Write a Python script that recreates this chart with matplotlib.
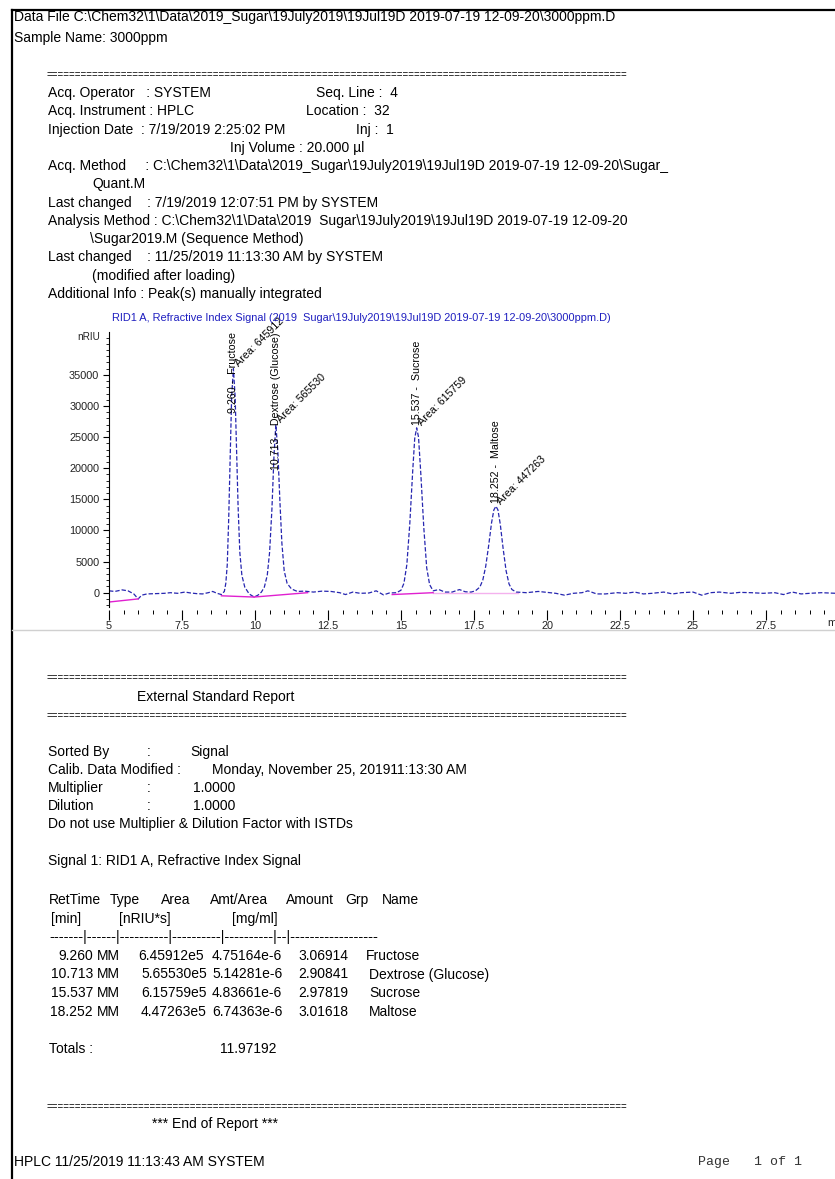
import matplotlib
matplotlib.use("Agg")
import matplotlib.pyplot as plt
from matplotlib.ticker import MultipleLocator, FuncFormatter
from matplotlib.lines import Line2D

# ---------------- data ----------------
trace_time = [5.0, 5.2, 5.45, 5.65, 5.85, 6.0, 6.12, 6.3, 6.6, 6.9, 7.1, 7.35, 7.6, 7.8, 8.0, 8.2, 8.4, 8.55, 8.7, 8.85,
              8.95, 9.0, 9.05, 9.1, 9.15, 9.2, 9.26, 9.32, 9.37, 9.42, 9.48, 9.55, 9.65, 9.8, 9.97,
              10.1, 10.22, 10.32, 10.42, 10.5, 10.58, 10.65, 10.713, 10.78, 10.85, 10.92, 11.0, 11.1, 11.25, 11.45, 11.7,
              12.0, 12.3, 12.6, 12.9, 13.1, 13.35, 13.6, 13.9, 14.15, 14.4, 14.6, 14.85,
              15.0, 15.1, 15.2, 15.3, 15.4, 15.47, 15.537, 15.6, 15.68, 15.78, 15.88, 15.98, 16.1,
              16.3, 16.5, 16.75, 17.0, 17.2, 17.4,
              17.55, 17.7, 17.8, 17.9, 18.0, 18.1, 18.18, 18.252, 18.32, 18.4, 18.5, 18.6, 18.7, 18.8, 18.95,
              19.3, 19.7, 20.0, 20.3, 20.6, 20.9, 21.2, 21.4, 21.7, 22.0, 22.4, 22.7, 23.0, 23.3, 23.6, 24.0,
              24.3, 24.6, 25.0, 25.3, 25.6, 25.9, 26.3, 26.6, 27.0, 27.4, 27.8, 28.1, 28.4, 28.7, 29.0, 29.4, 29.9]
trace_signal = [300, 200, 450, 300, -200, -1000, -400, -200, -150, -100, 0, -100, 100, -50, -150, -200, 0, 200, -100, -300,
                200, 1500, 4500, 12000, 22000, 31500, 36000, 31500, 23000, 14000, 6500, 2800, 900, -200, -700,
                -400, 100, 900, 2800, 6500, 13500, 22000, 27000, 23000, 15000, 8000, 3500, 1500, 600, 200, 250,
                100, 250, 200, 0, -300, 100, -100, -50, 300, -350, -50, 0,
                400, 1500, 4500, 11000, 19500, 24800, 26500, 25000, 19000, 10500, 4000, 1300, 300,
                500, 100, 100, 500, 150, 100,
                300, 900, 2000, 4200, 7500, 11200, 13300, 13900, 13300, 11000, 7000, 3500, 1400, 500, 100,
                0, 200, 50, -100, -400, -100, 0, 300, -200, -200, 0, -100, 100, -200, -100, 100,
                -200, 0, 100, -400, 0, 100, -100, 50, 0, -100, 0, -300, 100, -200, -100, 0, -100]

peak_rt = [9.260, 10.713, 15.537, 18.252]
peak_height = [36000, 27000, 26500, 13900]
peak_name = ["Fructose", "Dextrose (Glucose)", "Sucrose", "Maltose"]
peak_area_int = [645912, 565530, 615759, 447263]

base_t0 = [5.0, 8.85, 9.97, 14.7, 16.1]
base_t1 = [6.0, 9.97, 11.8, 16.1, 19.0]
base_y0 = [-1500, -500, -700, -300, 0]
base_y1 = [-1000, -700, 0, 0, 0]
base_alpha = [1.0, 1.0, 1.0, 1.0, 0.35]

x_tick_values = [5, 7.5, 10, 12.5, 15, 17.5, 20, 22.5, 25, 27.5]
y_tick_values = [0, 5000, 10000, 15000, 20000, 25000, 30000, 35000]

tbl_rettime = ["9.260", "10.713", "15.537", "18.252"]
tbl_type = ["MM", "MM", "MM", "MM"]
tbl_area = ["6.45912e5", "5.65530e5", "6.15759e5", "4.47263e5"]
tbl_amtarea = ["4.75164e-6", "5.14281e-6", "4.83661e-6", "6.74363e-6"]
tbl_amount = ["3.06914", "2.90841", "2.97819", "3.01618"]
tbl_name = ["Fructose", "Dextrose (Glucose)", "Sucrose", "Maltose"]
total_amount = "11.97192"

# ---------------- figure ----------------
W, H = 835, 1179
fig = plt.figure(figsize=(W / 100, H / 100), dpi=100)
FONT = ["Liberation Sans", "DejaVu Sans"]
FS = 10.0


def T(x, y, s, fs=FS, **kw):
    kw.setdefault("family", FONT)
    fig.text(x / W, 1 - y / H, s, fontsize=fs, va="center", ha=kw.pop("ha", "left"), **kw)


# page border
fig.add_artist(Line2D([12 / W, 1.0], [1 - 10 / H, 1 - 10 / H], color="black", lw=1.6))
fig.add_artist(Line2D([12 / W, 12 / W], [1 - 10 / H, 0.0], color="black", lw=1.6))
fig.add_artist(Line2D([12 / W, 1.0], [1 - 630 / H, 1 - 630 / H], color="#d0d0d0", lw=1.0))

T(14, 17, "Data File C:\\Chem32\\1\\Data\\2019_Sugar\\19July2019\\19Jul19D 2019-07-19 12-09-20\\3000ppm.D")
T(14, 38, "Sample Name: 3000ppm")

EQ = "=" * 101
T(47, 75, EQ, fs=7.0)
T(48, 93, "Acq. Operator   : SYSTEM")
T(316, 93, "Seq. Line :  4")
T(48, 111, "Acq. Instrument : HPLC")
T(306, 111, "Location :  32")
T(48, 130, "Injection Date  : 7/19/2019 2:25:02 PM")
T(356, 130, "Inj :  1")
T(230, 148, "Inj Volume : 20.000 µl")
T(48, 166, "Acq. Method     : C:\\Chem32\\1\\Data\\2019_Sugar\\19July2019\\19Jul19D 2019-07-19 12-09-20\\Sugar_")
T(92, 184, "Quant.M")
T(48, 203, "Last changed    : 7/19/2019 12:07:51 PM by SYSTEM")
T(48, 221, "Analysis Method : C:\\Chem32\\1\\Data\\2019  Sugar\\19July2019\\19Jul19D 2019-07-19 12-09-20")
T(90, 239, "\\Sugar2019.M (Sequence Method)")
T(48, 257, "Last changed    : 11/25/2019 11:13:30 AM by SYSTEM")
T(92, 276, "(modified after loading)")
T(48, 294, "Additional Info : Peak(s) manually integrated")
T(112, 318, "RID1 A, Refractive Index Signal (2019  Sugar\\19July2019\\19Jul19D 2019-07-19 12-09-20\\3000ppm.D)",
  fs=7.9, color="#1f1fc0")

# ---------------- chromatogram axes ----------------
ax_left, ax_right, ax_top, ax_bot = 109, 835, 332, 607
ax = fig.add_axes([ax_left / W, 1 - ax_bot / H, (ax_right - ax_left) / W, (ax_bot - ax_top) / H])
ax.set_xlim(5, 5 + (ax_right - ax_left) / 29.2)
ax.set_ylim(-2300, 41900)
ax.patch.set_alpha(0)
for s in ["top", "right"]:
    ax.spines[s].set_visible(False)
ax.spines["bottom"].set_visible(False)
ax.spines["bottom"].set_position(("outward", 2.2))
ax.spines["left"].set_linewidth(0.8)

ax.plot(trace_time, trace_signal, color="#2626b0", lw=0.9, ls=(0, (3.5, 1.6)))
for t0, t1, y0, y1, a in zip(base_t0, base_t1, base_y0, base_y1, base_alpha):
    ax.plot([t0, t1], [y0, y1], color="#e020d0", lw=1.0, alpha=a)

ax.xaxis.set_minor_locator(MultipleLocator(0.5))
ax.set_xticks(x_tick_values)
ax.xaxis.set_major_formatter(FuncFormatter(lambda v, p: f"{v:g}"))
ax.yaxis.set_minor_locator(MultipleLocator(1000))
ax.set_yticks(y_tick_values)
ax.yaxis.set_major_formatter(FuncFormatter(lambda v, p: f"{int(v)}"))
ax.tick_params(axis="x", which="major", length=7, width=0.8, pad=1.0, labelsize=7.8, labelcolor="#222222")
ax.tick_params(axis="x", which="minor", length=3, width=0.7)
ax.tick_params(axis="y", which="major", length=4, width=0.8, pad=3, labelsize=7.8, labelcolor="#222222")
ax.tick_params(axis="y", which="minor", length=2, width=0.6)
for tk in ax.xaxis.get_major_ticks():
    if tk.get_loc() % 5 != 0:
        tk.tick1line.set_markersize(3)
for lab in ax.get_xticklabels() + ax.get_yticklabels():
    lab.set_family(FONT)

T(100, 337, "nRIU", fs=7.2, ha="right", color="#222222")
T(827, 623, "min", fs=7.8, color="#222222")

# peak labels
LFS = 7.7
fig.canvas.draw()
renderer = fig.canvas.get_renderer()
ax_top_disp = ax.transAxes.transform((0, 1))[1]
for rt, h, name, area in zip(peak_rt, peak_height, peak_name, peak_area_int):
    txt = ax.annotate(f"{rt:.3f} -  {name}", xy=(rt, h), xytext=(0, 2), textcoords="offset points",
                      rotation=90, ha="center", va="bottom", fontsize=LFS, family=FONT, annotation_clip=False)
    bb = txt.get_window_extent(renderer)
    if bb.y1 > ax_top_disp:
        txt.remove()
        ax.annotate(f"{rt:.3f} -  {name}", xy=(rt, 1.0), xycoords=("data", "axes fraction"),
                    rotation=90, ha="center", va="top", fontsize=LFS, family=FONT, annotation_clip=False)
    ax.annotate(f"Area: {area}", xy=(rt, h), xytext=(5, 0), textcoords="offset points",
                rotation=45, rotation_mode="anchor", ha="left", va="bottom", fontsize=LFS,
                family=FONT, annotation_clip=False)

# ---------------- report ----------------
T(47, 678, EQ, fs=7.0)
T(137, 697, "External Standard Report")
T(47, 716, EQ, fs=7.0)

T(48, 752, "Sorted By")
T(147, 752, ":")
T(190, 752, "Signal")
T(48, 770, "Calib. Data Modified :")
T(212, 770, "Monday, November 25, 201911:13:30 AM")
T(48, 788, "Multiplier")
T(147, 788, ":")
T(193, 788, "1.0000")
T(48, 806, "Dilution")
T(147, 806, ":")
T(193, 806, "1.0000")
T(48, 824, "Do not use Multiplier & Dilution Factor with ISTDs")
T(48, 861, "Signal 1: RID1 A, Refractive Index Signal")

T(49, 900, "RetTime")
T(110, 900, "Type")
T(161, 900, "Area")
T(210, 900, "Amt/Area")
T(286, 900, "Amount")
T(345, 900, "Grp")
T(382, 900, "Name")
T(51, 919, "[min]")
T(119, 919, "[nRIU*s]")
T(232, 919, "[mg/ml]")
T(49, 937, "-------|------|----------|----------|----------|--|------------------", fs=10.5)

row_y = [956, 974.5, 993, 1011.5]
for y, rtv, ty, ar, aa, am, nm in zip(row_y, tbl_rettime, tbl_type, tbl_area, tbl_amtarea, tbl_amount, tbl_name):
    T(93, y, rtv, ha="right")
    T(97, y, ty)
    T(138 if ar.startswith("6.45") else 141, y, ar)
    T(212, y, aa)
    T(298, y, am)
    T(366 if nm == "Fructose" else 369, y, nm)

T(49, 1049, "Totals :")
T(220, 1049, total_amount)

T(47, 1107, EQ, fs=7.0)
T(152, 1124, "*** End of Report ***")

T(14, 1162, "HPLC 11/25/2019 11:13:43 AM SYSTEM")
T(698, 1162, "Page   1 of 1", fs=9.5, family=["Liberation Mono", "DejaVu Sans Mono"], color="#333333")

fig.savefig("out.png", dpi=100)
